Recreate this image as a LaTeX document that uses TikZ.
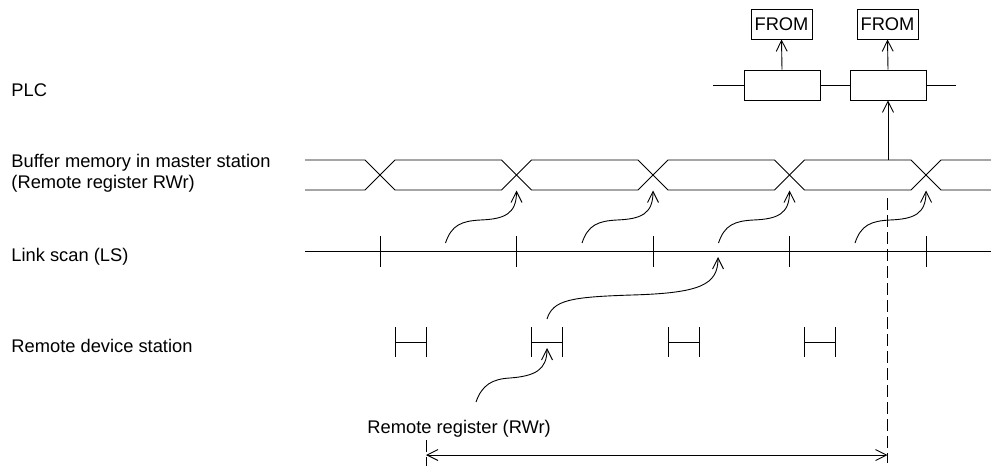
\documentclass[tikz,border=0pt]{standalone}
\usepackage{fontspec}
\setmainfont{Liberation Sans}
\usetikzlibrary{arrows.meta}
\begin{document}
\begin{tikzpicture}[x=1pt,y=-1pt,
  line width=0.9pt,
  barb/.style={-{Straight Barb[length=11pt,width=11pt,line width=0.9pt]}},
  dbarb/.style={{Straight Barb[length=11pt,width=11pt,line width=0.9pt]}-{Straight Barb[length=11pt,width=11pt,line width=0.9pt]}},
  lbl/.style={anchor=base west,inner sep=0pt,font=\fontsize{18.3}{21}\selectfont},
  plcbox/.style={draw,minimum width=76pt,minimum height=30pt,inner sep=0pt},
  frombox/.style={draw,minimum width=61pt,minimum height=30pt,inner sep=0pt,font=\fontsize{18.3}{21}\selectfont},
  dashline/.style={dash pattern=on 12pt off 5pt}]
\useasboundingbox (0,0) rectangle (991,466);

% labels
\node[lbl] (lplc) at (11,96) {PLC};
\node[lbl] (lbuf) at (11,167) {Buffer memory in master station};
\node[lbl] (lbuf2) at (11,188) {(Remote register RWr)};
\node[lbl] (lls) at (11,261) {Link scan (LS)};
\node[lbl] (lrds) at (11,352) {Remote device station};
\node[lbl] (lrr) at (367,433) {Remote register (RWr)};

% PLC
\node[plcbox] (p1) at (782,85) {};
\node[plcbox] (p2) at (888,85) {};
\node[frombox] (f1) at (781.5,24) {FROM};
\node[frombox] (f2) at (887.5,24) {FROM};
\coordinate (pl) at (713,85);
\coordinate (pr) at (956,85);
\draw (pl) -- (p1.west);
\draw (p1.east) -- (p2.west);
\draw (p2.east) -- (pr);
\draw[barb] (p1.north) -- (f1.south);
\draw[barb] (p2.north) -- (f2.south);
\coordinate (bt) at (888,160);
\draw[barb] (bt) -- (p2.south);

% buffer bus
\draw (305,160) -- (365,160) -- (395,190) -- (501.5,190) -- (531.5,160) -- (638,160) -- (668,190) -- (774.5,190) -- (804.5,160) -- (911,160) -- (941,190) -- (991,190);
\draw (305,190) -- (365,190) -- (395,160) -- (501.5,160) -- (531.5,190) -- (638,190) -- (668,160) -- (774.5,160) -- (804.5,190) -- (911,190) -- (941,160) -- (991,160);

% link scan
\draw (305,251) -- (991,251);
\foreach \c in {380,516.5,653,789.5,926} {
  \draw (\c,236) -- (\c,267);
}
\foreach \c in {516.5,653,789.5,926} {
  \draw[barb] (\c-71,243) .. controls (\c-65,225) and (\c-55,221) .. (\c-36,220)
     .. controls (\c-12,219) and (\c,214) .. (\c,190.5);
}

% remote device station
\foreach \h in {395,531.5,668,804.5} {
  \draw (\h,327) -- (\h,357);
  \draw (\h+31,327) -- (\h+31,357);
  \draw (\h,342) -- (\h+31,342);
}
\draw[barb] (547,319) .. controls (553,300) and (570,297) .. (632,295)
   .. controls (700,293) and (718,285) .. (718,257);
\draw[barb] (476,402) .. controls (482,385) and (492,379) .. (510,378)
   .. controls (535,376) and (547,370) .. (547,348);

% period
\coordinate (d1a) at (887.5,198);
\coordinate (d1b) at (887.5,463);
\coordinate (d2a) at (426,440);
\coordinate (d2b) at (426,466);
\draw[dashline] (d1a) -- (d1b);
\draw[dashline] (d2a) -- (d2b);
\coordinate (al) at (426,455);
\coordinate (ar) at (887.5,455);
\draw[dbarb] (al) -- (ar);
\end{tikzpicture}
\end{document}
